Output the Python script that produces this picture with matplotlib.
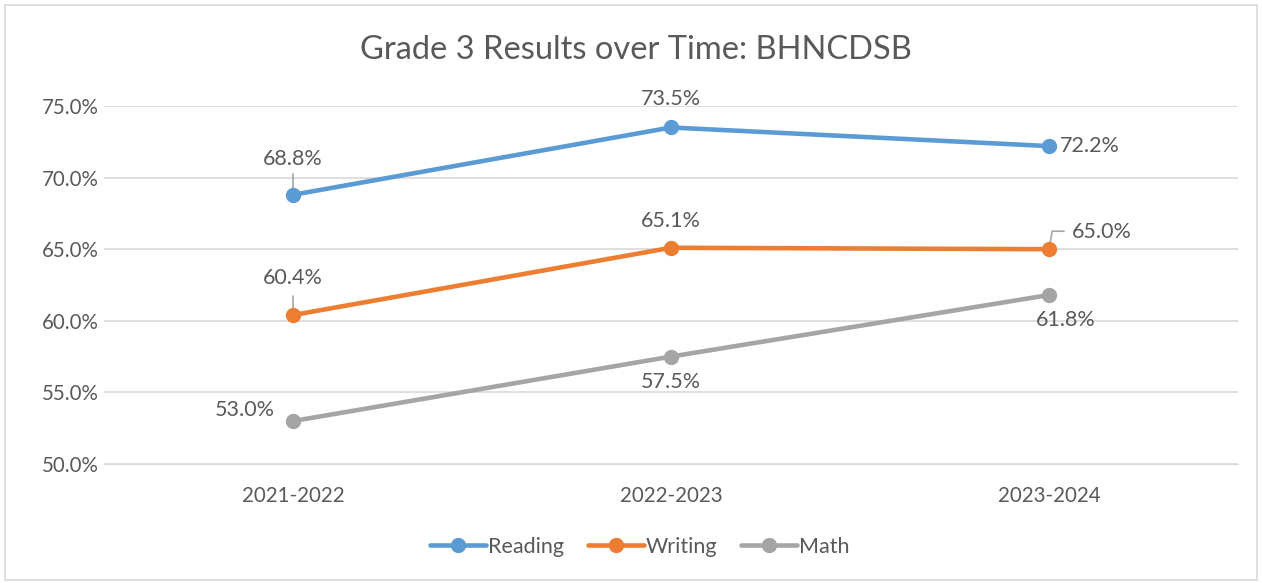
import matplotlib.pyplot as plt
from matplotlib.patches import Rectangle
from matplotlib.ticker import FuncFormatter

years = ["2021-2022", "2022-2023", "2023-2024"]
reading = [68.8, 73.5, 72.2]
writing = [60.4, 65.1, 65.0]
math_ = [53.0, 57.5, 61.8]

plt.rcParams["font.family"] = ["Lato", "DejaVu Sans"]
TXT = "#595959"
colors = {"Reading": "#5B9BD5", "Writing": "#ED7D31", "Math": "#A5A5A5"}

fig = plt.figure(figsize=(12.62, 5.83), dpi=100)
ax = fig.add_axes([104 / 1262, 1 - 464 / 583, (1238 - 104) / 1262, (464 - 106) / 583])

x = list(range(len(years)))
for name, vals in [("Reading", reading), ("Writing", writing), ("Math", math_)]:
    ax.plot(x, vals, color=colors[name], lw=3.3, marker="o", ms=10,
            solid_capstyle="round", label=name, zorder=3)

ax.set_xlim(-0.5, 2.5)
ax.set_ylim(50, 75)
ax.set_yticks([50, 55, 60, 65, 70, 75])
ax.yaxis.set_major_formatter(FuncFormatter(lambda v, p: f"{v:.1f}%"))
ax.set_xticks(x)
ax.set_xticklabels(years)
ax.tick_params(length=0, labelsize=14.8, colors=TXT)
ax.tick_params(axis="y", pad=4)
ax.tick_params(axis="x", pad=16)
ax.grid(axis="y", color="#D9D9D9", lw=1.2)
ax.set_axisbelow(True)
for s in ax.spines.values():
    s.set_visible(False)
ax.spines["bottom"].set_visible(True)
ax.spines["bottom"].set_color("#D9D9D9")

LS = 15.5

def lab(vals, i, dx, dy, ha, va):
    ax.annotate(f"{vals[i]:.1f}%", (x[i], vals[i]), xytext=(dx, dy),
                textcoords="offset pixels", ha=ha, va=va, fontsize=LS, color=TXT)

lab(reading, 0, 0, 36, "center", "center")
lab(reading, 1, 0, 28, "center", "center")
lab(reading, 2, 11, 0, "left", "center")
lab(writing, 0, 0, 37, "center", "center")
lab(writing, 1, 0, 27, "center", "center")
lab(writing, 2, 23, 17, "left", "center")
lab(math_, 0, -18, 11, "right", "center")
lab(math_, 1, 0, -25, "center", "center")
lab(math_, 2, 17, -25, "center", "center")

# leader lines
lead = dict(arrowstyle="-", color="#A5A5A5", lw=1.2, shrinkA=0, shrinkB=0)
ax.annotate("", (x[0], reading[0]), xytext=(0, 21), textcoords="offset pixels",
            arrowprops=lead, zorder=2)
ax.annotate("", (x[0], writing[0]), xytext=(0, 19), textcoords="offset pixels",
            arrowprops=lead, zorder=2)
ax.annotate("", (x[2], writing[2]), xytext=(15, 18), textcoords="offset pixels",
            arrowprops=dict(lead, connectionstyle="angle,angleA=0,angleB=80,rad=0"), zorder=2)

fig.text(636 / 1262, 1 - 50 / 583, "Grade 3 Results over Time: BHNCDSB",
         ha="center", va="center", fontsize=23.5, color=TXT)

fig.legend(loc="center", bbox_to_anchor=(640 / 1262, 1 - 547 / 583), ncol=3,
           frameon=False, fontsize=15.5, handlelength=2.6, handletextpad=0.1,
           columnspacing=1.1, labelcolor=TXT)

fig.patches.append(Rectangle((5 / 1262, 3 / 583), 1252 / 1262, 575 / 583,
                             transform=fig.transFigure, fill=False,
                             edgecolor="#D9D9D9", lw=1.2))

fig.savefig("out.png", dpi=100, facecolor="white")
